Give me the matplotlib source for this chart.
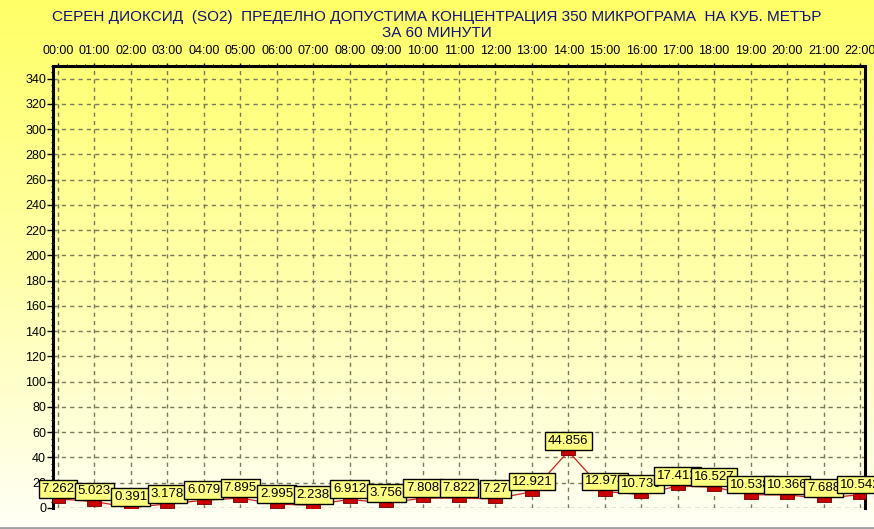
import numpy as np
import matplotlib
matplotlib.use('Agg')
import matplotlib.pyplot as plt
from matplotlib.ticker import MultipleLocator
from matplotlib.lines import Line2D
from matplotlib.colors import LinearSegmentedColormap

# hourly SO2 values, 00:00 .. 22:00
hours = ['00:00', '01:00', '02:00', '03:00', '04:00', '05:00', '06:00', '07:00',
         '08:00', '09:00', '10:00', '11:00', '12:00', '13:00', '14:00', '15:00',
         '16:00', '17:00', '18:00', '19:00', '20:00', '21:00', '22:00']
values = [7.262, 5.023, 0.391, 3.178, 6.079, 7.895, 2.995, 2.238, 6.912, 3.756,
          7.808, 7.822, 7.27, 12.921, 44.856, 12.974, 10.736, 17.412, 16.527,
          10.538, 10.366, 7.688, 10.542]
labels = ['7.262', '5.023', '0.391', '3.178', '6.079', '7.895', '2.995', '2.238',
          '6.912', '3.756', '7.808', '7.822', '7.27', '12.921', '44.856', '12.974',
          '10.736', '17.412', '16.527', '10.538', '10.366', '7.688', '10.542']

title = ('СЕРЕН ДИОКСИД  (SO2)  ПРЕДЕЛНО ДОПУСТИМА КОНЦЕНТРАЦИЯ 350 МИКРОГРАМА  НА КУБ. МЕТЪР\n'
         'ЗА 60 МИНУТИ')

plt.rcParams['font.family'] = ['Liberation Sans', 'DejaVu Sans']

fig = plt.figure(figsize=(8.74, 5.29), dpi=100)

# yellow gradient background over the whole figure
bg = fig.add_axes([0, 0, 1, 1], zorder=-10)
grad = np.linspace(0, 1, 256).reshape(-1, 1)
cmap = LinearSegmentedColormap.from_list('yel', ['#FFFF66', '#FFFFA8', '#FFFFF6'])
bg.imshow(grad, aspect='auto', cmap=cmap, extent=[0, 1, 0, 1], origin='upper')
bg.set_axis_off()
fig.add_artist(Line2D([0, 1], [1.5 / 529, 1.5 / 529], color='#A0A0A0', lw=2))

ax = fig.add_axes([53 / 874, 1 - 508 / 529, (865 - 53) / 874, (508 - 66) / 529])
ax.set_facecolor('none')

x = np.arange(len(values))
ax.plot(x, values, color='#D02020', lw=0.9, zorder=3)
rect = [(-1, -0.55), (1, -0.55), (1, 0.55), (-1, 0.55), (-1, -0.55)]
ax.plot(x, values, ls='none', marker=rect, markersize=10, color='#CC0000',
        markeredgecolor='#700000', markeredgewidth=0.6, zorder=4)

for xi, v, lab in zip(x, values, labels):
    ax.annotate(lab, (xi, v), xytext=(0, 3), textcoords='offset points',
                ha='center', va='bottom', fontsize=9.5,
                bbox=dict(boxstyle='square,pad=0.22', fc='#FFFF80', ec='black', lw=1),
                zorder=5, annotation_clip=False)

ax.set_xlim(-5 / 36.45, 22 + 5 / 36.45)
ax.set_ylim(0, 350)

ax.xaxis.tick_top()
ax.set_xticks(x)
ax.set_xticklabels(hours, fontsize=9)
ax.xaxis.set_minor_locator(MultipleLocator(0.25))
ax.set_yticks(np.arange(0, 341, 20))
ax.yaxis.set_minor_locator(MultipleLocator(5))
ax.tick_params(axis='y', labelsize=9, length=4, width=1, pad=1)
ax.tick_params(axis='x', labelsize=9, length=2.5, width=1, pad=4)
ax.tick_params(which='minor', length=1.8, width=0.8)

ax.grid(True, which='major', color='#7A7A5A', ls=(0, (3, 3)), lw=1)
ax.set_axisbelow(True)

for side in ['left', 'top', 'right']:
    ax.spines[side].set_linewidth(2.2)
    ax.spines[side].set_color('black')
ax.spines['bottom'].set_visible(False)

fig.text(0.5, 1 - 25 / 529, title, ha='center', va='center', color='#101080',
         fontsize=11, linespacing=1.25)

fig.savefig('out.png', dpi=100)
